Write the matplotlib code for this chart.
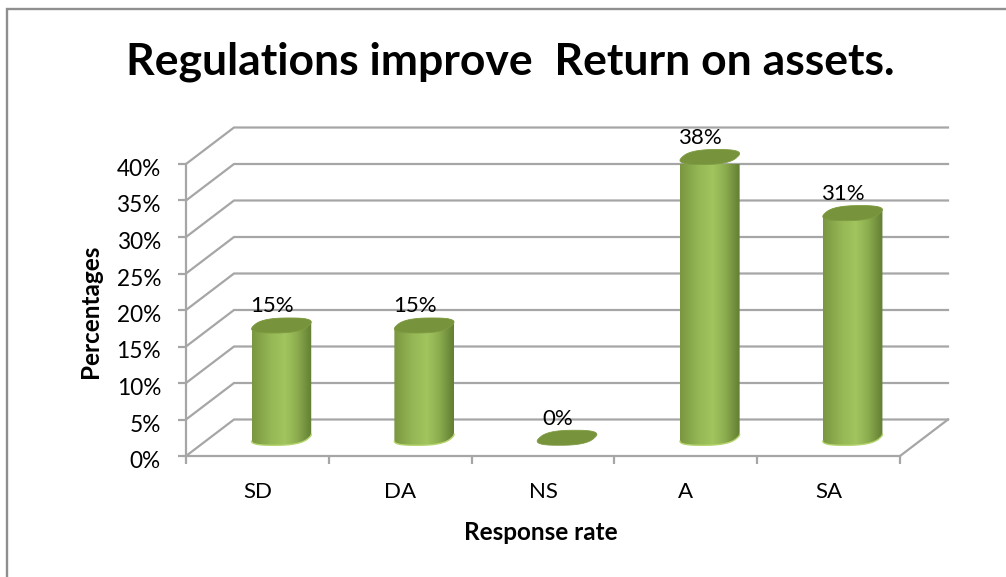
import numpy as np
import matplotlib
matplotlib.use("Agg")
import matplotlib.pyplot as plt
from matplotlib.colors import LinearSegmentedColormap
from matplotlib.lines import Line2D
from matplotlib.patches import Polygon
from matplotlib.transforms import ScaledTranslation

plt.rcParams['font.family'] = ['Lato', 'DejaVu Sans']

categories = ['SD', 'DA', 'NS', 'A', 'SA']
values = [15.38, 15.38, 0.0, 38.46, 30.77]
y_ticks = [0, 5, 10, 15, 20, 25, 30, 35, 40]
title = 'Regulations improve  Return on assets.'
x_title = 'Response rate'
y_title = 'Percentages'

W, H = 1006, 577
GRID = '#a6a6a6'
fig = plt.figure(figsize=(W / 100, H / 100), dpi=100, facecolor='white')
# chart frame: only the top and left edges are inside the crop
fig.add_artist(Line2D([7 / W, 7 / W, 1], [0, 1 - 9 / H, 1 - 9 / H], transform=fig.transFigure,
                      color='#8f8f8f', linewidth=1.7, solid_joinstyle='miter'))

L, R, B, T = 186, 900, 456, 164
ax = fig.add_axes([L / W, 1 - B / H, (R - L) / W, (B - T) / H])
ax.patch.set_alpha(0)
ax.set_xlim(0.5, 5.5)
ax.set_ylim(0, 40)

px_x = 5 / (R - L)          # category units per pixel
px_y = 40 / (B - T)         # percent per pixel
DX = 48 * px_x              # depth of the 3-D box
DY = 5.0

for s in ('top', 'right'):
    ax.spines[s].set_visible(False)
for s in ('left', 'bottom'):
    ax.spines[s].set_color(GRID)
    ax.spines[s].set_linewidth(1.6)

ax.set_yticks(y_ticks)
ax.set_yticklabels([f'{v}%' for v in y_ticks], fontsize=16.3, color='black')
ax.tick_params(axis='y', length=6, width=1.6, color=GRID, pad=12)
shift = ScaledTranslation(0, -3.5 / 100, fig.dpi_scale_trans)
for lab in ax.get_yticklabels():
    lab.set_transform(lab.get_transform() + shift)
ax.set_xticks(np.arange(0.5, 6, 1))
ax.set_xticklabels([])
ax.tick_params(axis='x', which='major', length=6, width=1.6, color=GRID)
ax.set_xticks(range(1, 6), minor=True)
ax.set_xticklabels(categories, minor=True, fontsize=16, color='black')
ax.tick_params(axis='x', which='minor', length=0, pad=18.5)

for v in y_ticks:
    ax.plot([0.5, 0.5 + DX, 5.5 + DX], [v, v + DY, v + DY], color=GRID, lw=1.6,
            clip_on=False, zorder=1, solid_joinstyle='miter')
ax.plot([5.5, 5.5 + DX], [0, DY], color=GRID, lw=1.6, clip_on=False, zorder=1)

cmap = LinearSegmentedColormap.from_list('cyl', [
    (0.0, '#7a9740'), (0.30, '#94b654'), (0.55, '#a2c55f'), (0.75, '#8dae4f'), (1.0, '#627e33')])
grad = np.linspace(0, 1, 128)[None, :]

a = 27.5 * px_x
bx = 8.0 * px_x
by = 7.5 * px_y
SHAPE = 0.75                # rounder ends than a true ellipse


def ring(cx, cy):
    t = np.linspace(0, 2 * np.pi, 240, endpoint=False)
    c = np.sign(np.cos(t)) * np.abs(np.cos(t)) ** SHAPE
    s = np.sign(np.sin(t)) * np.abs(np.sin(t)) ** SHAPE
    return np.column_stack([cx + a * c + bx * s, cy + by * s])


for i, v in enumerate(values):
    cx = i + 1 + DX / 2
    base = DY / 2
    top = base + v
    cap = ring(cx, top)
    left, right = cap[:, 0].argmin(), cap[:, 0].argmax()
    half_w = cap[right, 0] - cx
    if v > 0:
        bot = ring(cx, base)
        # lower arc of the base (left extreme → right extreme), then upper arc of the cap
        lower = np.roll(bot, -left, axis=0)[:((right - left) % len(bot)) + 1]
        upper = np.roll(cap, -right, axis=0)[:((left - right) % len(cap)) + 1]
        body = Polygon(np.vstack([lower, upper]), closed=True, transform=ax.transData,
                       facecolor='none', edgecolor='none')
        ax.add_patch(body)
        im = ax.imshow(grad, extent=[cx - half_w, cx + half_w, base - 2 * by, top + 2 * by],
                       cmap=cmap, aspect='auto', zorder=3, interpolation='bilinear')
        im.set_clip_path(body)
        ax.plot(lower[:, 0], lower[:, 1], color='#b4d46c', lw=1.0, zorder=3.5, clip_on=False)
    ax.add_patch(Polygon(cap, closed=True, facecolor='#77933c', edgecolor='#7f9c42', lw=0.6,
                         zorder=4, clip_on=False))
    ax.annotate(f'{v:.0f}%', xy=(cx, top), xytext=(-9.5 * 0.72, 19 * 0.72),
                textcoords='offset points', ha='center', va='center',
                fontsize=16, color='black', zorder=5, annotation_clip=False)

ax.set_xlim(0.5, 5.5)
ax.set_ylim(0, 40)

fig.text(510 / W, 1 - 74 / H, title, ha='center', va='baseline', fontsize=32,
         fontweight='bold', color='black')
fig.text(541 / W, 1 - 532 / H, x_title, ha='center', va='center', fontsize=17.5,
         fontweight='bold', color='black')
fig.text(91 / W, 1 - 311 / H, y_title, ha='center', va='center', rotation=90, fontsize=17.5,
         fontweight='bold', color='black')

fig.savefig('out.png', dpi=100)
